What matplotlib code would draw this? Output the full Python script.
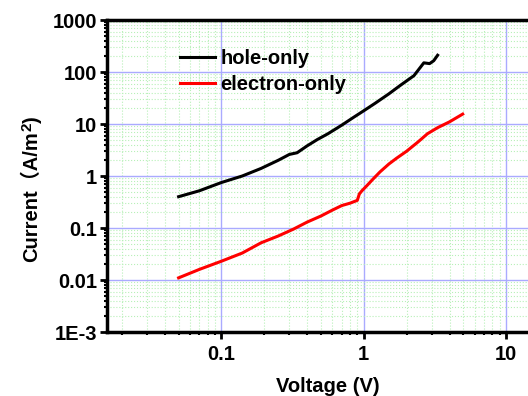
import matplotlib
matplotlib.use("Agg")
import matplotlib.pyplot as plt
from matplotlib.ticker import LogLocator, FixedLocator, FixedFormatter, NullFormatter

# hole-only device
hole_v = [0.05, 0.07, 0.1, 0.14, 0.19, 0.25, 0.3, 0.34, 0.4, 0.47, 0.56, 0.7, 0.85,
          1.0, 1.2, 1.5, 1.8, 2.25, 2.64, 2.9, 3.1, 3.3]
hole_j = [0.4, 0.52, 0.75, 1.0, 1.4, 2.0, 2.6, 2.8, 3.8, 5.0, 6.5, 9.5, 13.5,
          18, 25, 38, 55, 85, 150, 145, 165, 210]

# electron-only device
elec_v = [0.05, 0.07, 0.1, 0.14, 0.19, 0.25, 0.32, 0.4, 0.5, 0.6, 0.7, 0.8, 0.9,
          0.93, 0.97, 1.05, 1.15, 1.3, 1.5, 1.7, 2.0, 2.4, 2.8, 3.3, 4.0, 4.95]
elec_j = [0.011, 0.016, 0.023, 0.033, 0.052, 0.07, 0.095, 0.13, 0.17, 0.22, 0.27, 0.3, 0.34,
          0.45, 0.52, 0.65, 0.85, 1.2, 1.7, 2.2, 3.0, 4.5, 6.5, 8.5, 11, 15.5]

y_ticks = [1e-3, 1e-2, 1e-1, 1, 10, 100, 1000]
y_labels = ["1E-3", "0.01", "0.1", "1", "10", "100", "1000"]
x_ticks = [0.1, 1, 10]
x_labels = ["0.1", "1", "10"]

fams = ['Liberation Sans', 'Noto Sans CJK SC', 'DejaVu Sans']
plt.rcParams['font.family'] = fams
plt.rcParams['font.weight'] = 'bold'
fs = 14.5

fig = plt.figure(figsize=(5.28, 3.96), dpi=100)
ax = fig.add_axes([107/528, 64/396, 442/528, 312/396])

ax.plot(hole_v, hole_j, color='black', lw=2.2, label='hole-only')
ax.plot(elec_v, elec_j, color='#ff0000', lw=2.2, label='electron-only')

ax.set_xscale('log')
ax.set_yscale('log')
ax.set_xlim(0.0157, 20)
ax.set_ylim(1e-3, 1000)

ax.xaxis.set_major_locator(FixedLocator(x_ticks))
ax.xaxis.set_major_formatter(FixedFormatter(x_labels))
ax.xaxis.set_minor_locator(LogLocator(base=10, subs=range(2, 10), numticks=20))
ax.xaxis.set_minor_formatter(NullFormatter())
ax.yaxis.set_major_locator(FixedLocator(y_ticks))
ax.yaxis.set_major_formatter(FixedFormatter(y_labels))
ax.yaxis.set_minor_locator(LogLocator(base=10, subs=range(2, 10), numticks=20))
ax.yaxis.set_minor_formatter(NullFormatter())

ax.grid(which='minor', color='#b8f0b8', linestyle=':', lw=0.8)
ax.grid(which='major', color='#aaaaff', linestyle='-', lw=1.0)
ax.set_axisbelow(True)

for side in ['left', 'top', 'bottom']:
    ax.spines[side].set_linewidth(2.5)
ax.spines['right'].set_visible(False)

ax.tick_params(which='major', direction='out', length=5, width=2, labelsize=fs, pad=2)
ax.tick_params(which='minor', direction='out', length=2.5, width=1.5)
ax.tick_params(axis='x', which='major', pad=4)
ax.tick_params(axis='x', which='both', top=False)

ax.set_xlabel('Voltage (V)', fontsize=fs, fontweight='bold', labelpad=10)

# y label built from pieces so the superscript 2 keeps a readable size
t1 = fig.text(31/528, 1 - 262/396, 'Current（A/m', rotation=90, ha='center', va='bottom',
              fontsize=fs, fontweight='bold', family=fams)
t2 = ax.annotate('2', xy=(-0.05, 1.0), xycoords=t1, rotation=90, ha='left', va='bottom',
                 fontsize=11, fontweight='bold', family=fams, annotation_clip=False)
t3 = ax.annotate(')', xy=(0.55, 1.0), xycoords=(t1, t2), rotation=90, ha='center', va='bottom',
                 fontsize=fs, fontweight='bold', family=fams, annotation_clip=False)

ax.legend(loc='upper left', bbox_to_anchor=(0.165, 0.908), frameon=False,
          borderpad=0, borderaxespad=0, handlelength=1.75, handletextpad=0.25,
          labelspacing=0.37, prop={'size': fs, 'weight': 'bold'})

fig.savefig('out.png', dpi=100)
